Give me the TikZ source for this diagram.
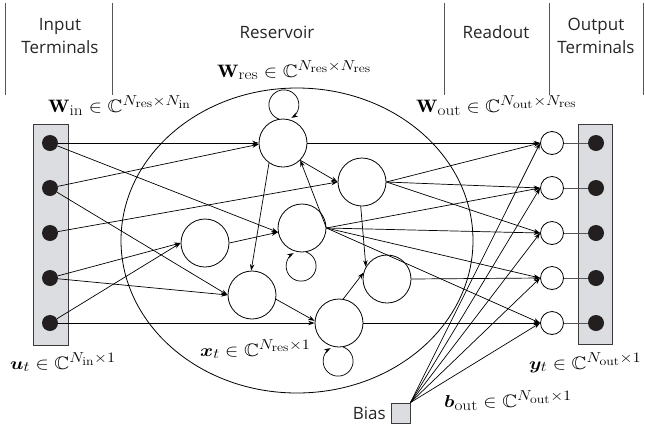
\documentclass[tikz,border=0pt]{standalone}
\usepackage{amsmath,amssymb,bm}
\usepackage{fontspec}
\usetikzlibrary{arrows.meta}
\newfontfamily\headfont{Open Sans}
\DeclareMathSizes{18}{18}{15}{12}
\definecolor{dotc}{HTML}{231F20}
\definecolor{boxc}{HTML}{DCDDE0}
\definecolor{framec}{HTML}{3A3A3A}
\definecolor{sepc}{HTML}{555555}
\tikzset{
  hdr/.style={font=\headfont\fontsize{17}{23}\selectfont, align=center, inner sep=0pt, text=black!85},
  lbl/.style={font=\fontsize{18}{21}\selectfont, inner sep=0pt},
  neuron/.style={circle, draw, fill=white, minimum size=48pt, inner sep=0pt, line width=0.8pt},
  outn/.style={circle, draw, fill=white, minimum size=23pt, inner sep=0pt, line width=0.8pt},
  dotn/.style={circle, fill=dotc, minimum size=16pt, inner sep=0pt},
  termbox/.style={draw=framec, fill=boxc, line width=0.9pt, inner sep=0pt},
  conn/.style={-{Stealth[length=6.5pt,width=4.5pt]}, line width=0.7pt},
  plain/.style={line width=0.7pt},
  sepline/.style={draw=sepc, line width=1pt},
}
\newcommand{\mlabel}[1]{\scalebox{1.15}[1]{$#1$}}
\begin{document}
\begin{tikzpicture}[x=1pt, y=-1pt]
\useasboundingbox (0,0) rectangle (645,429);

% column headers and separators
\draw[sepline] (5,3) -- (5,95);
\draw[sepline] (112,3) -- (112,95);
\draw[sepline] (444,3) -- (444,95);
\draw[sepline] (549,3) -- (549,95);
\draw[sepline] (643,3) -- (643,95);
\node[hdr] (hin) at (60,36) {Input\\Terminals};
\node[hdr] (hres) at (277,32) {Reservoir};
\node[hdr] (hread) at (496,32) {Readout};
\node[hdr] (hout) at (596,36) {Output\\Terminals};

% reservoir boundary
\draw[line width=0.8pt] (297,240.5) ellipse [x radius=176, y radius=152.5];

% terminal boxes
\node[termbox, minimum width=35pt, minimum height=221pt] (inbox) at (50.5,234.5) {};
\node[termbox, minimum width=34pt, minimum height=220pt] (outbox) at (595,234) {};
\node[termbox, minimum width=19pt, minimum height=20pt] (bias) at (400.5,413) {};
\node[hdr, anchor=east] (biastxt) at (386,413) {Bias};

% input and output terminals
\foreach \i/\y in {1/143,2/188,3/233,4/278,5/323} {
  \node[dotn] (I\i) at (50,\y) {};
  \node[dotn] (O\i) at (596,\y) {};
  \node[outn] (N\i) at (552,\y) {};
}

% reservoir neurons
\node[neuron] (R1) at (283,143) {};
\node[neuron] (R2) at (362,182) {};
\node[neuron] (R3) at (302,228) {};
\node[neuron] (R4) at (205,243) {};
\node[neuron] (R5) at (252,295) {};
\node[neuron] (R6) at (339,323) {};
\node[neuron] (R7) at (387,279) {};

% input weights
\draw[conn] (I1) -- (R1.west);
\draw[conn] (I1) -- (R3.190);
\draw[conn] (I2) -- (R1.183);
\draw[conn] (I2) -- (R5.west);
\draw[conn] (I3) -- (R2.west);
\draw[conn] (I4) -- (R4.west);
\draw[conn] (I4) -- (R5.west);
\draw[conn] (I5) -- (R4.west);
\draw[conn] (I5) -- (R6.west);

% reservoir weights
\draw[conn] (R1.235) -- (R5.92);
\draw[conn] (R4.east) -- (R3.190);
\draw[conn] (R3.east) -- (R1.-45);
\draw[conn] (R1.-45) -- (R2.west);
\draw[conn] (R2.-93) -- (R7.150);
\draw[conn] (R6.80) -- (R7.165);
\draw[conn] (R5.-10) -- (R6.175);
\draw[conn] (R1.100) arc[start angle=110, end angle=420, radius=15];
\draw[conn] (R3.-80) arc[start angle=-70, end angle=240, radius=15];
\draw[conn] (R6.-80) arc[start angle=-70, end angle=240, radius=15];

% readout weights
\draw[conn] (R1.east) -- (N1.west);
\draw[conn] (R2.east) -- (N1.west);
\draw[conn] (R2.east) -- (N2.west);
\draw[conn] (R2.east) -- (N3.west);
\draw[conn] (R3.east) -- (N2.west);
\draw[conn] (R3.east) -- (N3.west);
\draw[conn] (R3.east) -- (N4.west);
\draw[conn] (R3.east) -- (N5.west);
\draw[conn] (R7.east) -- (N4.west);
\draw[conn] (R6.east) -- (N5.west);

% bias
\foreach \i in {1,...,5} {
  \draw[conn] (bias.north east) -- (N\i.west);
  \draw[plain, draw=sepc] (N\i.east) -- (O\i);
}

% labels
\node[lbl, anchor=base west] (lwin) at (48,112) {\mlabel{\mathbf{W}_{\mathrm{in}} \in \mathbb{C}^{N_{\mathrm{res}}\times N_{\mathrm{in}}}}};
\node[lbl, anchor=base west] (lwres) at (217,77) {\mlabel{\mathbf{W}_{\mathrm{res}} \in \mathbb{C}^{N_{\mathrm{res}}\times N_{\mathrm{res}}}}};
\node[lbl, anchor=base west] (lwout) at (416,112) {\mlabel{\mathbf{W}_{\mathrm{out}} \in \mathbb{C}^{N_{\mathrm{out}}\times N_{\mathrm{res}}}}};
\node[lbl, anchor=base west] (lu) at (10,369) {\mlabel{\bm{u}_{t} \in \mathbb{C}^{N_{\mathrm{in}}\times 1}}};
\node[lbl, anchor=base west] (lx) at (200,356) {\mlabel{\bm{x}_{t} \in \mathbb{C}^{N_{\mathrm{res}}\times 1}}};
\node[lbl, anchor=base west] (ly) at (529,369) {\mlabel{\bm{y}_{t} \in \mathbb{C}^{N_{\mathrm{out}}\times 1}}};
\node[lbl, anchor=base west] (lb) at (444,407) {\mlabel{\bm{b}_{\mathrm{out}} \in \mathbb{C}^{N_{\mathrm{out}}\times 1}}};
\end{tikzpicture}
\end{document}
